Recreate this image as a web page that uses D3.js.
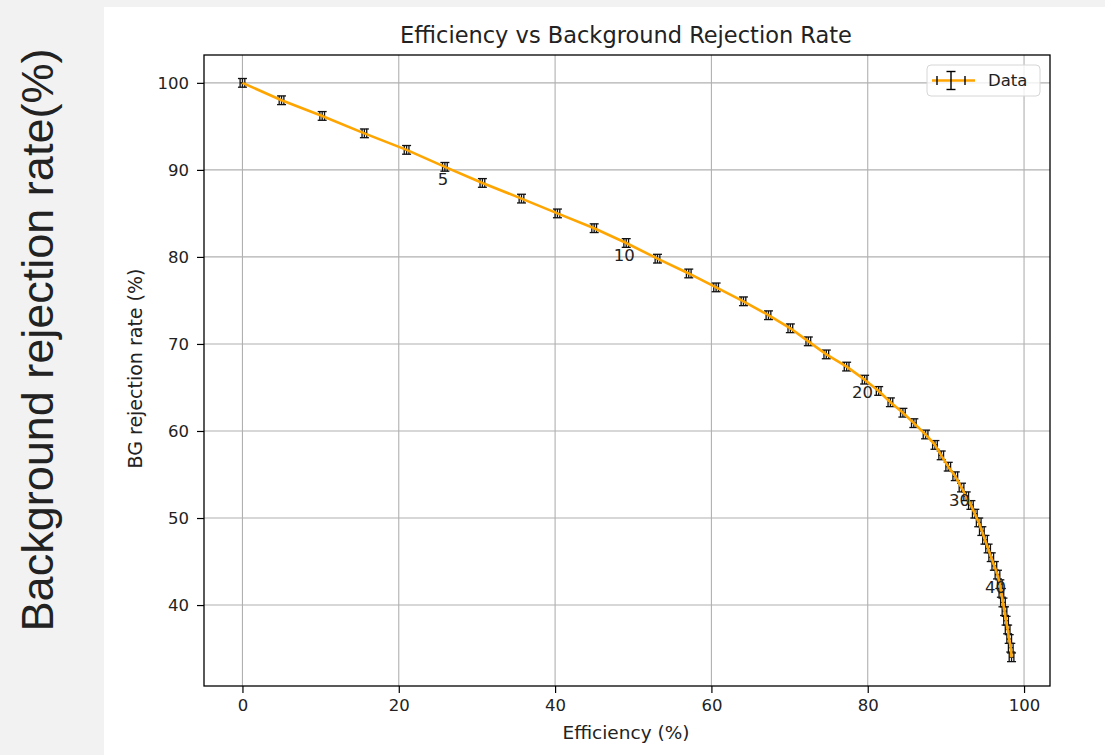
<!DOCTYPE html>
<html>
<head>
<meta charset="utf-8">
<script src="https://cdn.jsdelivr.net/npm/d3@7"></script>
<style>
    body { margin: 0; background: #f2f2f2; }
    #chart { width: 1105px; height: 755px; }
    text { font-family: "DejaVu Sans", sans-serif; fill: #222; }
</style>
</head>
<body>
<div id="chart"></div>
<script>

// efficiency (%) and background rejection rate (%) for each cut step
const efficiency = [0, 5.0, 10.2, 15.6, 21.0, 25.9, 30.7, 35.7, 40.3, 45.0,
    49.1, 53.1, 57.1, 60.6, 64.1, 67.3, 70.1, 72.4, 74.7, 77.3,
    79.6, 81.4, 82.9, 84.5, 85.9, 87.4, 88.6, 89.4, 90.3, 91.2,
    92.0, 92.6, 93.2, 93.7, 94.2, 94.6, 95.0, 95.4, 95.8, 96.2,
    96.6, 96.9, 97.1, 97.3, 97.5, 97.7, 97.9, 98.1, 98.3, 98.4];
const rejection = [100, 98.0, 96.2, 94.2, 92.3, 90.35, 88.5, 86.7, 85.0, 83.3,
    81.6, 79.8, 78.1, 76.5, 74.9, 73.3, 71.8, 70.3, 68.8, 67.4,
    65.9, 64.6, 63.3, 62.1, 60.9, 59.6, 58.4, 57.2, 55.9, 54.8,
    53.5, 52.5, 51.5, 50.5, 49.5, 48.5, 47.5, 46.5, 45.5, 44.5,
    43.5, 42.4, 41.4, 40.3, 39.3, 38.2, 37.2, 36.1, 35.1, 34.0];

// error bar half widths
const effErr = 0.3;
const rejErr = 0.5;

// points that get their index written under them
const labeledSteps = [5, 10, 20, 30, 40];

const xTicks = [0, 20, 40, 60, 80, 100];
const yTicks = [40, 50, 60, 70, 80, 90, 100];

class RocVis {

    constructor(parentElement) {
        this.parentElement = parentElement;
        this.displayData = efficiency.map((e, i) => ({step: i, eff: e, rej: rejection[i]}));
        this.initVis();
    }

    initVis() {
        let vis = this;

        vis.margin = {top: 55, right: 55, bottom: 69, left: 204};
        vis.width = 1105 - vis.margin.left - vis.margin.right;
        vis.height = 755 - vis.margin.top - vis.margin.bottom;

        vis.root = d3.select("#" + vis.parentElement).append("svg")
            .attr("width", 1105)
            .attr("height", 755);

        // white panel behind the figure
        vis.root.append("rect")
            .attr("x", 104).attr("y", 7)
            .attr("width", 1001).attr("height", 748)
            .attr("fill", "#fff");

        // page label on the grey strip
        vis.root.append("text")
            .attr("transform", "translate(37,340) rotate(-90)")
            .attr("text-anchor", "middle")
            .attr("dominant-baseline", "central")
            .style("font-family", "'Liberation Sans', Arial, sans-serif")
            .style("font-size", "45px")
            .style("fill", "#222")
            .text("Background rejection rate(%)");

        vis.svg = vis.root.append("g")
            .attr("transform", "translate(" + vis.margin.left + "," + vis.margin.top + ")");

        // scales (matplotlib style 5% margins)
        vis.x = d3.scaleLinear().domain([-4.92, 103.32]).range([0, vis.width]);
        vis.y = d3.scaleLinear().domain([30.7, 103.2]).range([vis.height, 0]);

        // grid
        vis.svg.append("g").selectAll("line")
            .data(xTicks).enter().append("line")
            .attr("x1", d => vis.x(d)).attr("x2", d => vis.x(d))
            .attr("y1", 0).attr("y2", vis.height)
            .attr("stroke", "#b0b0b0").attr("stroke-width", 1.1);
        vis.svg.append("g").selectAll("line")
            .data(yTicks).enter().append("line")
            .attr("y1", d => vis.y(d)).attr("y2", d => vis.y(d))
            .attr("x1", 0).attr("x2", vis.width)
            .attr("stroke", "#b0b0b0").attr("stroke-width", 1.1);

        // axes
        vis.xAxis = d3.axisBottom(vis.x).tickValues(xTicks).tickSize(7).tickPadding(6);
        vis.yAxis = d3.axisLeft(vis.y).tickValues(yTicks).tickSize(7).tickPadding(8);

        let gx = vis.svg.append("g")
            .attr("class", "x-axis axis")
            .attr("transform", "translate(0," + vis.height + ")")
            .call(vis.xAxis);
        let gy = vis.svg.append("g")
            .attr("class", "y-axis axis")
            .call(vis.yAxis);
        [gx, gy].forEach(g => {
            g.select(".domain").remove();
            g.selectAll("line").attr("stroke", "#000").attr("stroke-width", 1.2);
            g.selectAll("text").style("font-size", "16.5px").attr("fill", "#222");
        });

        // frame
        vis.svg.append("rect")
            .attr("width", vis.width).attr("height", vis.height)
            .attr("fill", "none").attr("stroke", "#000").attr("stroke-width", 1.3);

        // labels
        vis.svg.append("text")
            .attr("x", vis.width / 2 - 1).attr("y", -12)
            .attr("text-anchor", "middle")
            .style("font-size", "22.5px")
            .text("Efficiency vs Background Rejection Rate");
        vis.svg.append("text")
            .attr("x", vis.width / 2 - 1).attr("y", vis.height + 53)
            .attr("text-anchor", "middle")
            .style("font-size", "18.5px")
            .text("Efficiency (%)");
        vis.svg.append("text")
            .attr("transform", "translate(-69," + (vis.height / 2 - 2) + ") rotate(-90)")
            .attr("text-anchor", "middle")
            .attr("dominant-baseline", "central")
            .style("font-size", "19px")
            .text("BG rejection rate (%)");

        vis.updateVis();
    }

    updateVis() {
        let vis = this;
        let cap = 4.5;

        // error bars
        let eb = vis.svg.append("g").attr("stroke", "#111").attr("stroke-width", 1.3)
            .selectAll("g").data(vis.displayData).enter().append("g");
        eb.append("line")
            .attr("x1", d => vis.x(d.eff - effErr)).attr("x2", d => vis.x(d.eff + effErr))
            .attr("y1", d => vis.y(d.rej)).attr("y2", d => vis.y(d.rej));
        eb.append("line")
            .attr("x1", d => vis.x(d.eff)).attr("x2", d => vis.x(d.eff))
            .attr("y1", d => vis.y(d.rej - rejErr)).attr("y2", d => vis.y(d.rej + rejErr));
        [-effErr, effErr].forEach(o => {
            eb.append("line")
                .attr("x1", d => vis.x(d.eff + o)).attr("x2", d => vis.x(d.eff + o))
                .attr("y1", d => vis.y(d.rej) - cap).attr("y2", d => vis.y(d.rej) + cap);
        });
        [-rejErr, rejErr].forEach(o => {
            eb.append("line")
                .attr("x1", d => vis.x(d.eff) - cap).attr("x2", d => vis.x(d.eff) + cap)
                .attr("y1", d => vis.y(d.rej + o)).attr("y2", d => vis.y(d.rej + o));
        });

        // data line
        vis.line = d3.line().x(d => vis.x(d.eff)).y(d => vis.y(d.rej));
        vis.svg.append("path")
            .datum(vis.displayData)
            .attr("d", vis.line)
            .attr("fill", "none")
            .attr("stroke", "#ffa500")
            .attr("stroke-width", 2.6)
            .attr("stroke-linejoin", "round");

        // step annotations
        vis.svg.append("g").selectAll("text")
            .data(vis.displayData.filter(d => labeledSteps.includes(d.step)))
            .enter().append("text")
            .attr("x", d => vis.x(d.eff) - 2)
            .attr("y", d => vis.y(d.rej) + 13)
            .attr("text-anchor", "middle")
            .attr("dominant-baseline", "central")
            .style("font-size", "16.5px")
            .text(d => d.step);

        // legend
        let lg = vis.root.append("g").attr("transform", "translate(927,65)");
        lg.append("rect")
            .attr("width", 113).attr("height", 31).attr("rx", 4)
            .attr("fill", "#fff").attr("fill-opacity", 0.8)
            .attr("stroke", "#d6d6d6");
        let ly = 15.5;
        lg.append("line").attr("x1", 5).attr("x2", 48).attr("y1", ly).attr("y2", ly)
            .attr("stroke", "#ffa500").attr("stroke-width", 2.6);
        let lb = lg.append("g").attr("stroke", "#000").attr("stroke-width", 1.4);
        lb.append("line").attr("x1", 24).attr("x2", 24).attr("y1", ly - 9).attr("y2", ly + 9);
        lb.append("line").attr("x1", 19.5).attr("x2", 28.5).attr("y1", ly - 9).attr("y2", ly - 9);
        lb.append("line").attr("x1", 19.5).attr("x2", 28.5).attr("y1", ly + 9).attr("y2", ly + 9);
        lb.append("line").attr("x1", 10).attr("x2", 10).attr("y1", ly - 4.5).attr("y2", ly + 4.5);
        lb.append("line").attr("x1", 38).attr("x2", 38).attr("y1", ly - 4.5).attr("y2", ly + 4.5);
        lg.append("text").attr("x", 61).attr("y", ly)
            .attr("dominant-baseline", "central")
            .style("font-size", "16.5px")
            .text("Data");
    }
}

new RocVis("chart");
</script>
</body>
</html>
